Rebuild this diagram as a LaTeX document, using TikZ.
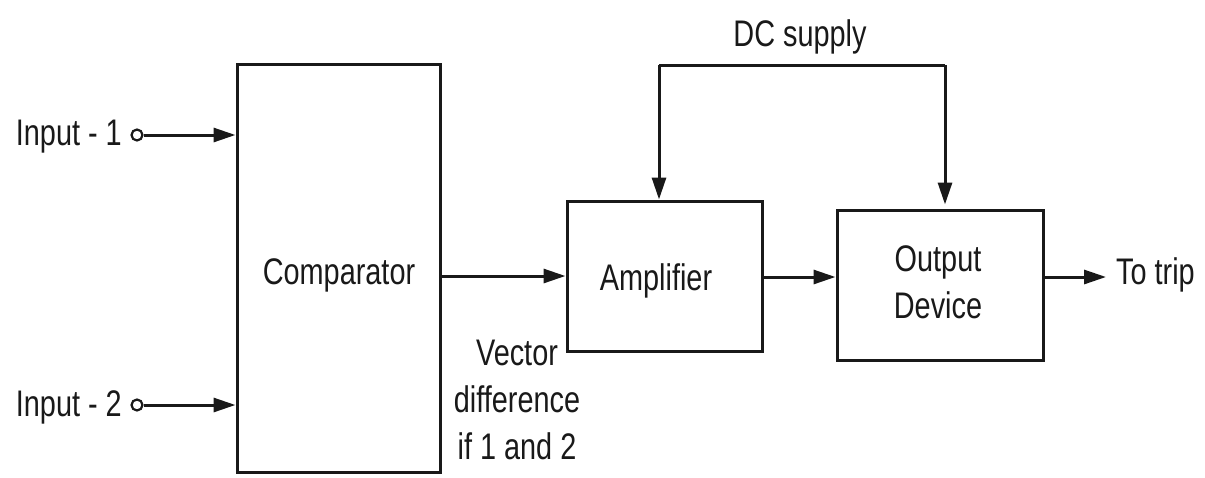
\documentclass[tikz,border=0pt]{standalone}
\usepackage{fontspec}
\setmainfont[FakeStretch=0.78]{Liberation Sans}
\usetikzlibrary{arrows.meta,calc}
\begin{document}
\begin{tikzpicture}[x=1pt,y=-1pt,
  every node/.style={font=\fontsize{37}{47}\selectfont, text=black!90},
  blk/.style={draw=black!90, line width=3pt, inner sep=0pt},
  arr/.style={draw=black!90, line width=3pt, -{Triangle[length=22pt,width=14pt]}},
  ln/.style={draw=black!90, line width=3pt},
  term/.style={circle, draw=black!90, line width=2.2pt, inner sep=0pt, minimum size=11pt}]
\useasboundingbox (0,0) rectangle (1205,477);
\fill[white] (0,0) rectangle (1205,477);

% blocks
\node[blk, minimum width=203pt, minimum height=408pt] (comp) at (338.5,268) {};
\node at (339,275) {Comparator};
\node[blk, minimum width=195pt, minimum height=150pt] (amp) at (664.5,276) {};
\node at (656,281) {Amplifier};
\node[blk, minimum width=206pt, minimum height=150pt] (out) at (940,285) {};
\node[align=center] at (938,282) {Output\\Device};

% inputs
\node[term] (i1) at (137,135) {};
\node[anchor=east, inner sep=0pt] (t1) at (122,137) {Input - 1};
\draw[arr] (i1.east) -- (comp.west |- i1);
\node[term] (i2) at (137,405) {};
\node[anchor=east, inner sep=0pt] (t2) at (122,407) {Input - 2};
\draw[arr] (i2.east) -- (comp.west |- i2);

% main path
\draw[arr] (comp.east |- amp.west) -- (amp.west);
\coordinate (m2) at (762,277);
\draw[arr] (amp.east |- m2) -- (out.west |- m2);
\coordinate (trip) at (1106,277);
\draw[arr] (out.east |- trip) -- (trip);
\node[anchor=west, inner sep=0pt] (tt) at (1116,275) {To trip};

% DC supply
\node (dc) at (800,37) {DC supply};
\coordinate (dcL) at (659,65);
\coordinate (dcR) at (945,65);
\draw[ln] (dcR) -- (dcL);
\draw[arr] (dcL) -- (dcL |- amp.north);
\draw[arr, shorten >=4pt] (dcR) -- (dcR |- out.north);

% label
\node[align=center] (vd) at (517,400) {Vector\\difference\\if 1 and 2};
\end{tikzpicture}
\end{document}
